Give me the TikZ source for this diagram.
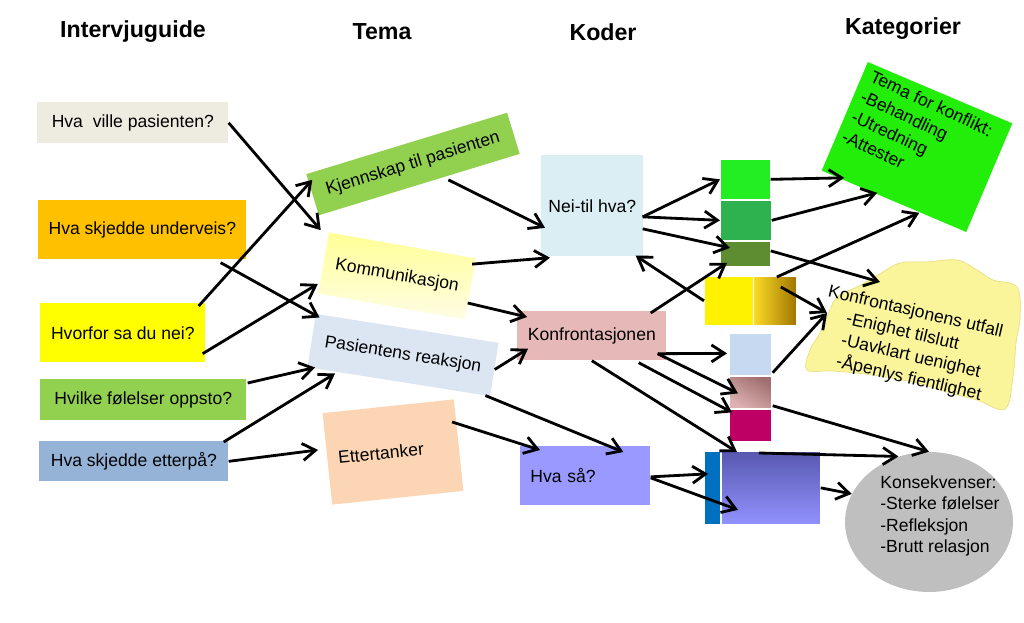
\documentclass[tikz,border=0pt]{standalone}
\usepackage{fontspec}
\setmainfont{Liberation Sans}
\usepackage{tikz}
\usetikzlibrary{arrows.meta,shapes.geometric}

\definecolor{qgray}{RGB}{238,236,225}
\definecolor{qorange}{RGB}{255,192,0}
\definecolor{qyellow}{RGB}{255,255,0}
\definecolor{qgreen}{RGB}{146,208,80}
\definecolor{qblue}{RGB}{149,179,215}
\definecolor{tyellowA}{RGB}{255,255,150}
\definecolor{tyellowB}{RGB}{255,253,228}
\definecolor{tblue}{RGB}{220,230,242}
\definecolor{tpeach}{RGB}{252,213,180}
\definecolor{kblue}{RGB}{218,238,243}
\definecolor{kpink}{RGB}{230,185,184}
\definecolor{kviolet}{RGB}{153,153,255}
\definecolor{cgreenA}{RGB}{34,238,34}
\definecolor{cgreenB}{RGB}{46,178,80}
\definecolor{cgreenC}{RGB}{94,140,49}
\definecolor{cgoldA}{RGB}{252,220,40}
\definecolor{cgoldB}{RGB}{160,118,0}
\definecolor{cblueL}{RGB}{198,217,240}
\definecolor{cpinkL}{RGB}{222,178,178}
\definecolor{cpinkD}{RGB}{160,110,110}
\definecolor{cmagenta}{RGB}{190,0,100}
\definecolor{cblueD}{RGB}{0,112,192}
\definecolor{cpurpleD}{RGB}{88,88,176}
\definecolor{cpurpleL}{RGB}{146,146,255}
\definecolor{gGreen}{RGB}{34,238,10}
\definecolor{cloudY}{RGB}{250,245,155}
\definecolor{cloudE}{RGB}{232,224,130}
\definecolor{kgray}{RGB}{191,191,191}

\begin{document}
\begin{tikzpicture}[x=0.02cm, y=-0.02cm,
    every node/.style={font=\fontsize{10}{12.6}\selectfont, text=black},
    hdr/.style={font=\bfseries\fontsize{13.2}{15}\selectfont},
    qbox/.style={rectangle, anchor=north west, inner sep=0pt},
    tbox/.style={rectangle, inner sep=0pt},
    cell/.style={rectangle, anchor=north west, inner sep=0pt, draw=white, line width=0.4pt},
    arr/.style={-{Straight Barb[length=2.6mm,width=3.4mm]}, line width=1.6pt}]
    \useasboundingbox (0,0) rectangle (1024,622);

    % overskrifter
    \node[hdr] (h1) at (133,32) {Intervjuguide};
    \node[hdr] (h2) at (382,32) {Tema};
    \node[hdr] (h3) at (603,32) {Koder};
    \node[hdr] (h4) at (903,29) {Kategorier};

    % intervjuguide
    \node[qbox, fill=qgray, minimum width=3.82cm, minimum height=0.82cm] (q1) at (37,102) {Hva\ \ ville pasienten?};
    \node[qbox, fill=qorange, minimum width=4.16cm, minimum height=1.18cm] (q2) at (38,200) {Hva skjedde underveis?};
    \node[qbox, fill=qyellow, minimum width=3.3cm, minimum height=1.18cm] (q3) at (40,303) {Hvorfor sa du nei?};
    \node[qbox, fill=qgreen, minimum width=4.12cm, minimum height=0.82cm] (q4) at (40,379) {Hvilke følelser oppsto?};
    \node[qbox, fill=qblue, minimum width=3.78cm, minimum height=0.8cm] (q5) at (39,441) {Hva skjedde etterpå?};

    % tema
    \node[tbox, fill=qgreen, rotate=17, minimum width=4.2cm, minimum height=0.86cm] (t1) at (413,164) {Kjennskap til pasienten};
    \node[tbox, top color=tyellowA, bottom color=tyellowB, rotate=-10, minimum width=2.98cm, minimum height=1.24cm] (t2) at (397,276) {Kommunikasjon};
    \node[tbox, fill=tblue, rotate=-9, minimum width=3.7cm, minimum height=1.08cm] (t3) at (403,355) {Pasientens reaksjon};
    \node[tbox, fill=tpeach, rotate=6, minimum height=1.84cm, inner xsep=0.22cm, text width=2.2cm, align=left] (t4) at (393,452) {Ettertanker};

    % koder
    \node[tbox, fill=kblue, anchor=north west, minimum width=2.04cm, minimum height=2.02cm] (k1) at (541,155) {Nei-til hva?};
    \node[tbox, fill=kpink, anchor=north west, minimum width=2.98cm, minimum height=0.98cm] (k2) at (517,311) {Konfrontasjonen};
    \node[tbox, fill=kviolet, anchor=north west, minimum height=1.18cm, inner xsep=0.2cm, text width=2.2cm, align=left] (k3) at (520,446) {Hva så?};

    % fargefelt
    \node[cell, fill=cgreenA, minimum width=1cm, minimum height=0.8cm] (s1) at (720,159) {};
    \node[cell, fill=cgreenB, minimum width=1.02cm, minimum height=0.8cm] (s2) at (720,200) {};
    \node[cell, fill=cgreenC, minimum width=1cm, minimum height=0.5cm] (s3) at (720,241) {};
    \node[cell, fill=yellow, minimum width=0.98cm, minimum height=0.98cm] (s4a) at (704,276) {};
    \node[cell, left color=cgoldA, right color=cgoldB, minimum width=0.86cm, minimum height=0.98cm] (s4b) at (753,276) {};
    \node[cell, fill=cblueL, minimum width=0.84cm, minimum height=0.84cm] (s5) at (729,333) {};
    \node[cell, top color=cpinkD, bottom color=cpinkL, shading angle=-30, minimum width=0.84cm, minimum height=0.64cm] (s6) at (729,376) {};
    \node[cell, fill=cmagenta, minimum width=0.84cm, minimum height=0.64cm] (s7) at (729,409) {};
    \node[cell, fill=cblueD, minimum width=0.32cm, minimum height=1.46cm] (s8) at (704,451) {};
    \node[cell, top color=cpurpleD, bottom color=cpurpleL, minimum width=1.98cm, minimum height=1.46cm] (s9) at (721,451) {};

    % kategorier
    \node[tbox, fill=gGreen, rotate=-23, minimum width=3.14cm, minimum height=2.36cm] (g1) at (917,147) {};
    \node[rotate=-25, anchor=north west, inner sep=0pt, align=left] (g1txt) at (874,69) {Tema for konflikt:\\-Behandling\\-Utredning\\-Attester};

    \filldraw[fill=cloudY, draw=cloudE, line width=0.4pt] plot[smooth cycle, tension=0.6] coordinates {
        (878,275) (900,263) (927,262) (957,260) (977,270) (993,280) (1017,287) (1020,317)
        (1016,343) (1013,377) (1005,409) (977,400) (950,393) (917,383) (873,375) (833,371)
        (807,370) (810,350) (820,333) (827,317) (837,297) (857,287)};
    \node[rotate=-13, anchor=north west, inner sep=0pt, align=left] (utfall) at (830,284) {Konfrontasjonens utfall\\\hspace*{0.47cm}-Enighet tilslutt\\\hspace*{0.47cm}-Uavklart uenighet\\\hspace*{0.47cm}-Åpenlys fientlighet};

    \node[ellipse, fill=kgray, minimum width=3.36cm, minimum height=2.8cm, inner sep=0pt] (kons) at (929,522) {};
    \node[anchor=north west, inner sep=0pt, align=left, font=\fontsize{10}{12.3}\selectfont] (konstxt) at (880,475) {Konsekvenser:\\-Sterke følelser\\-Refleksjon\\-Brutt relasjon};

    % piler: intervjuguide -> tema
    \draw[arr] (q1.east) -- ([shift={(-8,-2)}]t2.north west);
    \draw[arr] ([shift={(-7,3)}]q3.north east) -- ([shift={(0,-15)}]t1.west);
    \draw[arr] ([shift={(-26,3)}]q2.south east) -- ([shift={(4,4)}]t3.north west);
    \draw[arr] ([shift={(-3,-9)}]q3.south east) -- ([shift={(0,-10)}]t2.south west);
    \draw[arr] ([shift={(1,4)}]q4.north east) -- ([shift={(8,0)}]t3.south west);
    \draw[arr] ([shift={(-5,1)}]q5.north east) -- ([shift={(28,6)}]t3.south west);
    \draw[arr] (q5.east) -- ([shift={(-9,-9)}]t4.west);

    % piler: tema -> koder
    \draw[arr] ([shift={(29,-5)}]t1.south) -- ([shift={(4,22)}]k1.west);
    \draw[arr] ([shift={(-4,6)}]t2.north east) -- ([shift={(9,1)}]k1.south west);
    \draw[arr] ([shift={(-3,14)}]t2.east) -- ([shift={(10,6)}]k2.north west);
    \draw[arr] (t3.east) -- ([shift={(11,-12)}]k2.south west);
    \draw[arr] ([shift={(-5,-1)}]t3.south east) -- ([shift={(38,6)}]k3.north);
    \draw[arr] ([shift={(-2,23)}]t4.north east) -- ([shift={(20,4)}]k3.north west);

    % piler: koder -> fargefelt
    \draw[arr] ([shift={(-1,11)}]k1.east) -- (s1.west);
    \draw[arr] ([shift={(-1,11)}]k1.east) -- (s2.west);
    \draw[arr] ([shift={(-1,23)}]k1.east) -- ([shift={(10,-6)}]s3.west);
    \draw[arr] (s4a.west) -- ([shift={(-8,-1)}]k1.south east);
    \draw[arr] ([shift={(-16,2)}]k2.north east) -- ([shift={(7,9)}]s3.west);
    \draw[arr] ([shift={(-9,-7)}]k2.south east) -- ([shift={(-2,-1)}]s5.west);
    \draw[arr] ([shift={(-9,-7)}]k2.south east) -- ([shift={(9,1)}]s6.west);
    \draw[arr] ([shift={(-28,2)}]k2.south east) -- ([shift={(3,-13)}]s7.west);
    \draw[arr] (k2.south) -- ([shift={(16,1)}]s9.north west);
    \draw[arr] ([shift={(0,1)}]k3.east) -- ([shift={(4,-14)}]s8.west);
    \draw[arr] ([shift={(0,2)}]k3.east) -- ([shift={(17,22)}]s9.west);

    % piler: fargefelt -> kategorier
    \draw[arr] (s1.east) -- ([shift={(23,7)}]g1.south west);
    \draw[arr] (s2.east) -- ([shift={(56,22)}]g1.south west);
    \draw[arr] ([shift={(2,1)}]s4b.north) -- ([shift={(98,42)}]g1.south west);
    \draw[arr] ([shift={(0,-3)}]s3.east) -- ([shift={(50,-2)}]utfall.north west);
    \draw[arr] ([shift={(6,11)}]s4b.north) -- ([shift={(-3,29)}]utfall.north west);
    \draw[arr] ([shift={(1,-3)}]s5.south east) -- ([shift={(-3,29)}]utfall.north west);
    \draw[arr] ([shift={(1,-3)}]s6.south east) -- (kons.north);
    \draw[arr] ([shift={(-12,2)}]s9.north) -- (kons.115);
    \draw[arr] (s9.east) -- (kons.160);
\end{tikzpicture}
\end{document}
